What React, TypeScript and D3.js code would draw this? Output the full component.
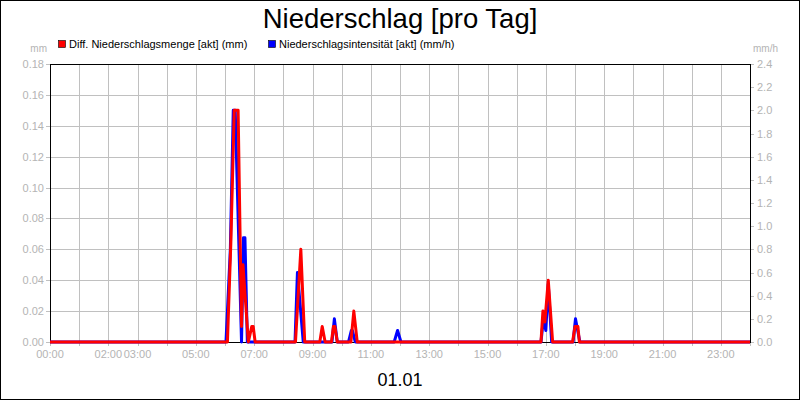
import React, { useEffect } from "react";
import * as d3 from "d3";

const leftTicks = [0, 0.02, 0.04, 0.06, 0.08, 0.1, 0.12, 0.14, 0.16, 0.18];
const rightTicks = [0, 0.2, 0.4, 0.6, 0.8, 1.0, 1.2, 1.4, 1.6, 1.8, 2.0, 2.2, 2.4];
const hourGrid = d3.range(0, 25);
const hourLabels = ["00:00", "02:00", "03:00", "05:00", "07:00", "09:00", "11:00", "13:00", "15:00", "17:00", "19:00", "21:00", "23:00"];

const redTimes = ["00:00", "06:05", "06:12", "06:19", "06:27", "06:34", "06:37", "06:48", "06:55", "06:58", "07:02",
  "08:25", "08:36", "08:44", "09:15", "09:20", "09:26", "09:39", "09:43", "09:46", "09:51",
  "10:19", "10:25", "10:32", "16:50", "16:54", "16:58", "17:05", "17:14", "17:55", "18:00", "18:06", "18:09", "24:00"];
const redValues = [0, 0, 0.064, 0.15, 0.15, 0.01, 0.05, 0, 0.01, 0.01, 0,
  0, 0.06, 0, 0, 0.01, 0, 0, 0.01, 0.01, 0,
  0, 0.02, 0, 0, 0.02, 0.013, 0.04, 0, 0, 0.01, 0.01, 0, 0];

const blueTimes = ["00:00", "06:02", "06:11", "06:17", "06:21", "06:34", "06:38", "06:41", "06:46",
  "08:24", "08:29", "08:41", "09:40", "09:45", "09:51", "10:14", "10:20", "10:22", "10:28",
  "11:48", "11:55", "12:02", "16:50", "16:55", "17:00", "17:05", "17:12", "17:56", "18:01", "18:10", "24:00"];
const blueValues = [0, 0, 0.8, 2.0, 2.0, 0, 0.9, 0.9, 0,
  0, 0.6, 0, 0, 0.2, 0, 0, 0.1, 0.1, 0,
  0, 0.1, 0, 0, 0.2, 0.1, 0.5, 0, 0, 0.2, 0, 0];

const legendLabels = ["Diff. Niederschlagsmenge [akt] (mm)", "Niederschlagsintensität [akt] (mm/h)"];
const title = "Niederschlag [pro Tag]";
const dateLabel = "01.01";

const toHours = (t: string) => {
  const [h, m] = t.split(":").map(Number);
  return h + m / 60;
};

export default function App() {
  useEffect(() => {
    document.body.style.margin = "0";
  }, []);
  const L = 50, R = 750, T = 64, B = 342;
  const x = d3.scaleLinear().domain([0, 24]).range([L, R]);
  const yL = d3.scaleLinear().domain([0, 0.18]).range([B, T]);
  const yR = d3.scaleLinear().domain([0, 2.4]).range([B, T]);
  const redData = redTimes.map((t, i) => [toHours(t), redValues[i]] as [number, number]);
  const blueData = blueTimes.map((t, i) => [toHours(t), blueValues[i]] as [number, number]);
  const redLine = d3.line<[number, number]>().x(d => x(d[0])).y(d => yL(d[1]))(redData) || "";
  const blueLine = d3.line<[number, number]>().x(d => x(d[0])).y(d => yR(d[1]))(blueData) || "";
  const gray = "#b4b4b4";
  const font = "'Liberation Sans', Arial, sans-serif";
  return (
    <svg width={800} height={400} style={{ display: "block" }} fontFamily={font}>
      <rect x={0.5} y={0.5} width={799} height={399} fill="#fff" stroke="#000" />
      <text x={400} y={28} textAnchor="middle" fontSize={27.5} fill="#000">{title}</text>
      {/* legend */}
      <rect x={58.5} y={40.5} width={7} height={7} fill="#ff0000" stroke="#000" strokeWidth={0.6} />
      <text x={69} y={48} fontSize={11} fill="#000">{legendLabels[0]}</text>
      <rect x={268.5} y={40.5} width={7} height={7} fill="#0000ff" stroke="#000" strokeWidth={0.6} />
      <text x={279} y={48} fontSize={11} fill="#000">{legendLabels[1]}</text>
      <text x={47} y={52} fontSize={10} fill={gray} textAnchor="end">mm</text>
      <text x={753} y={52} fontSize={10} fill={gray}>mm/h</text>
      {/* grid */}
      {hourGrid.map(h => (
        <line key={"v" + h} x1={Math.round(x(h)) + 0.5} x2={Math.round(x(h)) + 0.5} y1={T} y2={B + 4} stroke="#c0c0c0" />
      ))}
      {leftTicks.map(v => (
        <line key={"h" + v} x1={L - 4} x2={R} y1={Math.round(yL(v)) + 0.5} y2={Math.round(yL(v)) + 0.5} stroke="#c0c0c0" />
      ))}
      {rightTicks.map(v => (
        <line key={"rt" + v} x1={R} x2={R + 4} y1={Math.round(yR(v)) + 0.5} y2={Math.round(yR(v)) + 0.5} stroke="#c0c0c0" />
      ))}
      <rect x={L + 0.5} y={T + 0.5} width={R - L} height={B - T} fill="none" stroke="#000" />
      {/* tick labels */}
      {leftTicks.map(v => (
        <text key={"lt" + v} x={44} y={yL(v) + 4} fontSize={11} fill={gray} textAnchor="end">{d3.format(".2f")(v)}</text>
      ))}
      {rightTicks.map(v => (
        <text key={"rl" + v} x={757} y={yR(v) + 4} fontSize={11} fill={gray}>{d3.format(".1f")(v)}</text>
      ))}
      {hourLabels.map(l => (
        <text key={l} x={x(toHours(l))} y={358} fontSize={11} fill={gray} textAnchor="middle">{l}</text>
      ))}
      <text x={400} y={386} fontSize={18} textAnchor="middle" fill="#000">{dateLabel}</text>
      {/* series */}
      <path d={blueLine} fill="none" stroke="#0000ff" strokeWidth={3} strokeLinejoin="round" />
      <path d={redLine} fill="none" stroke="#ff0000" strokeWidth={3} strokeLinejoin="round" />
    </svg>
  );
}
